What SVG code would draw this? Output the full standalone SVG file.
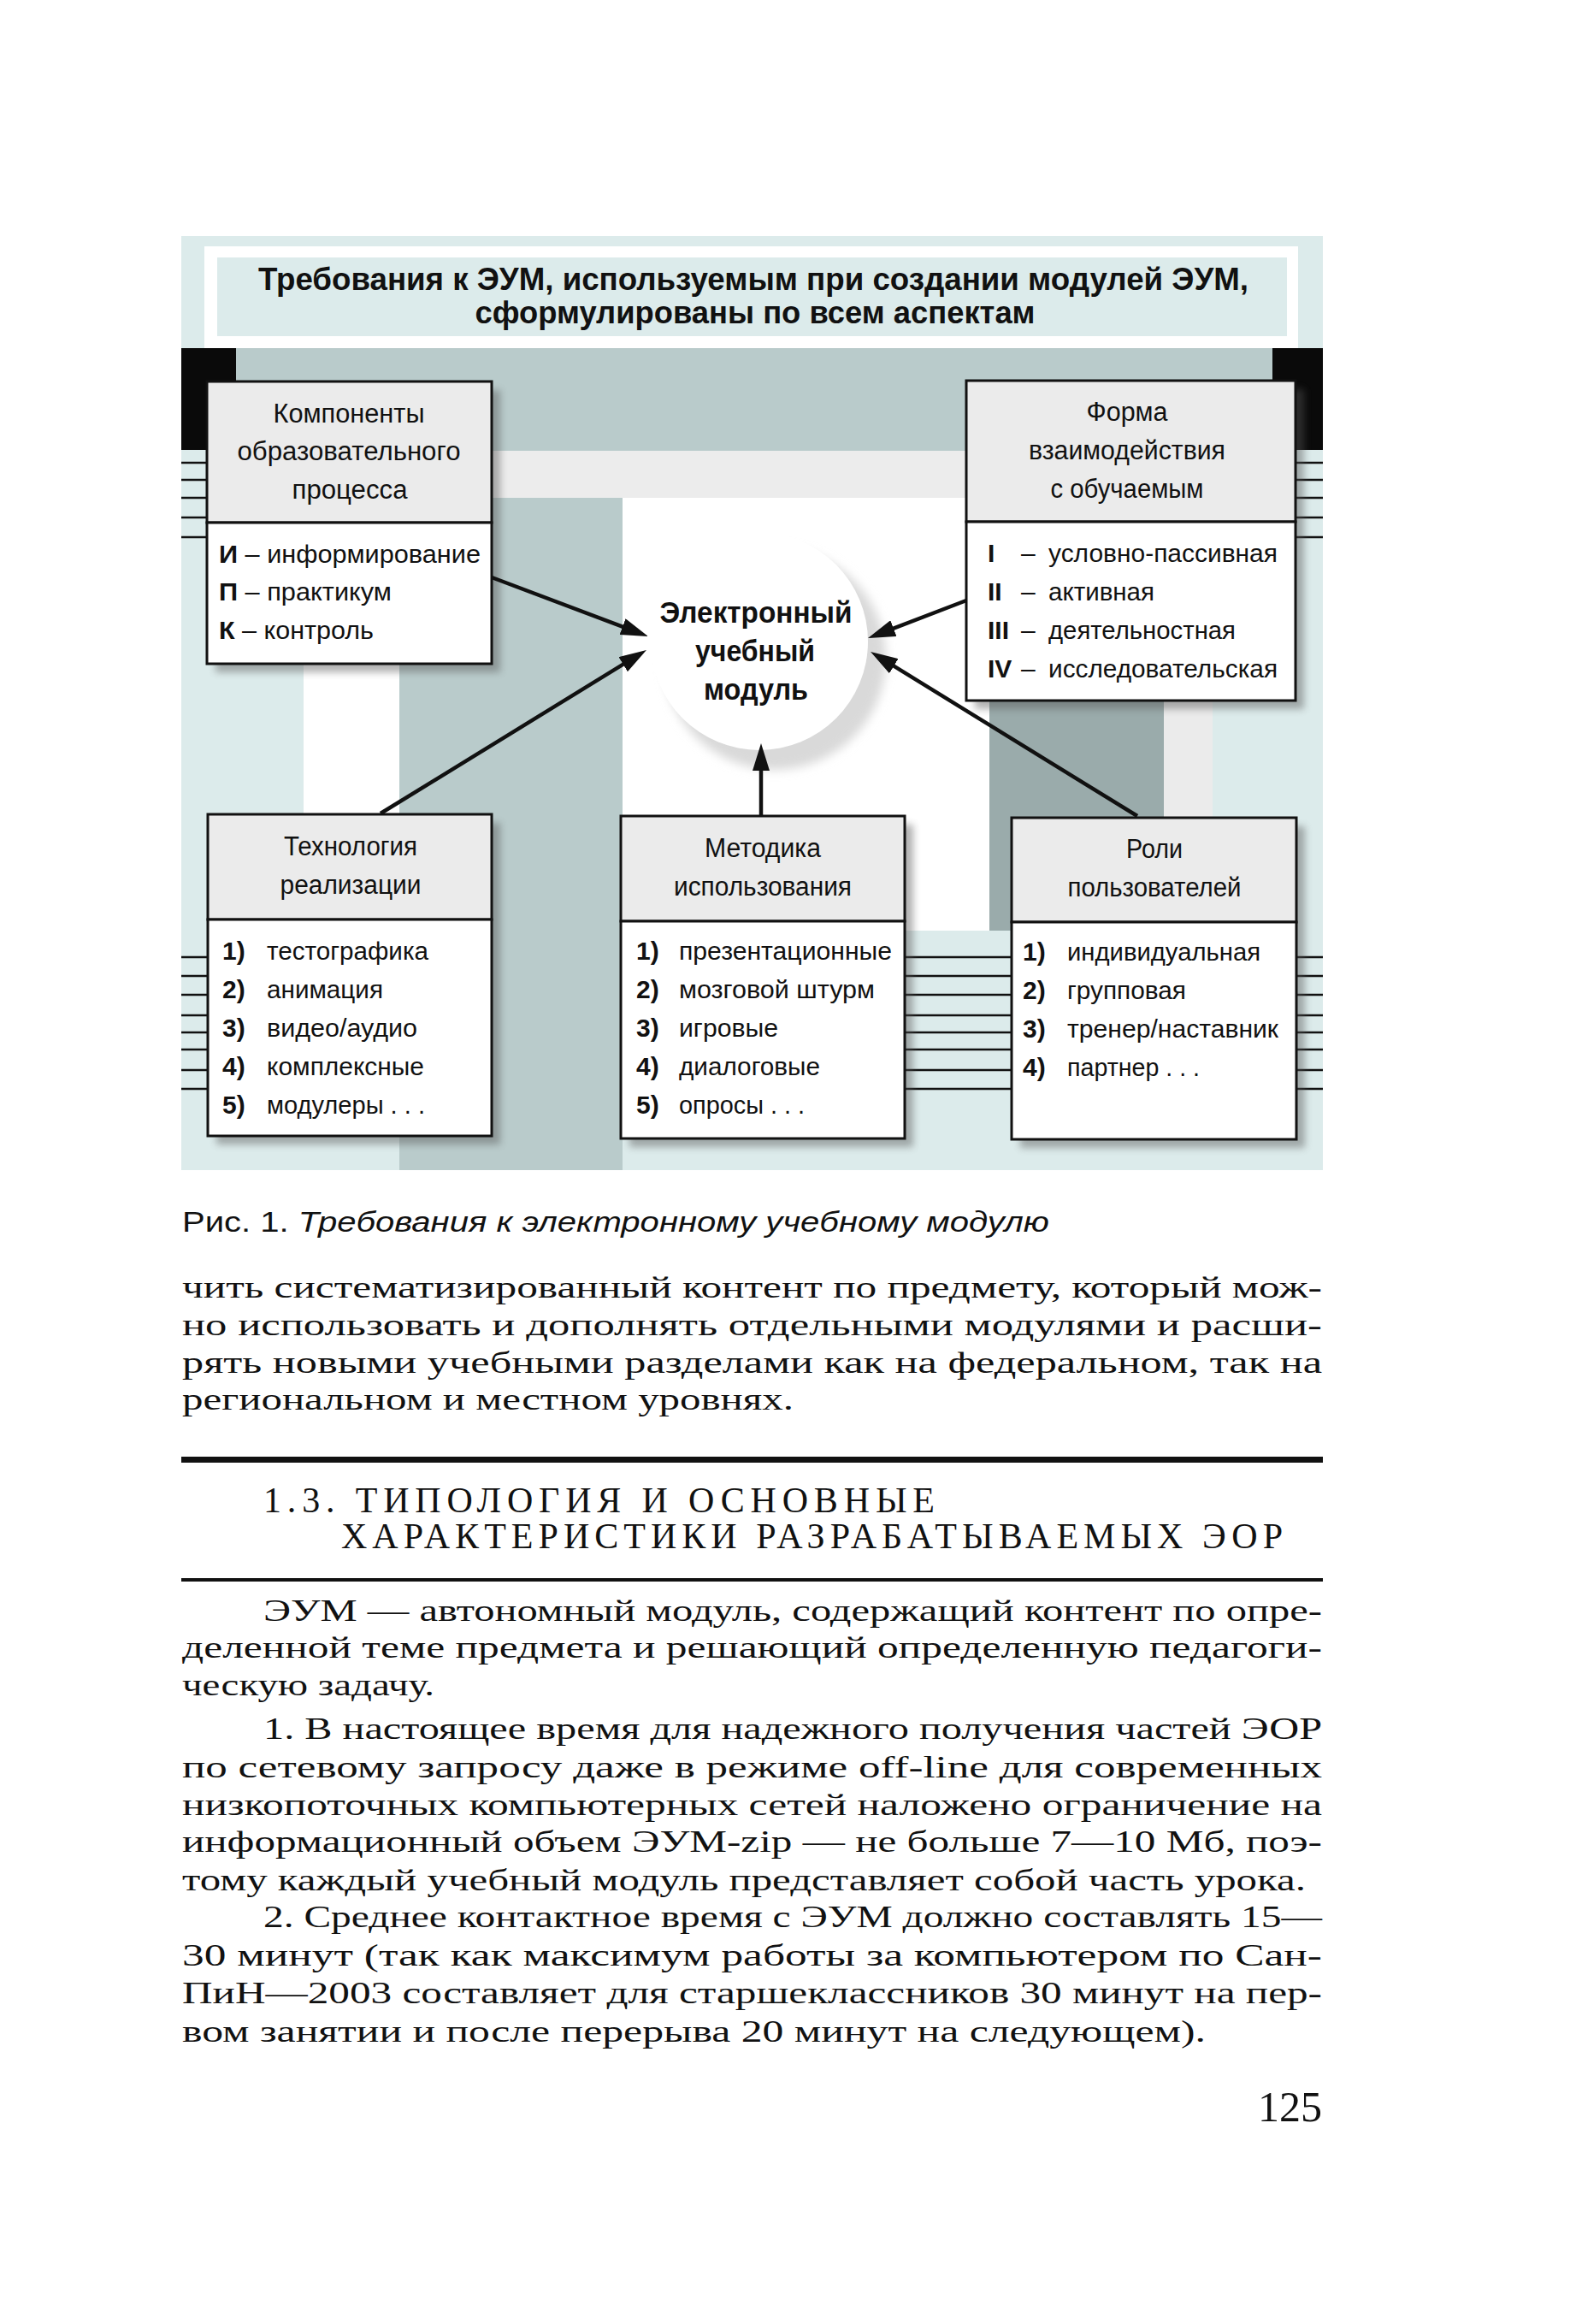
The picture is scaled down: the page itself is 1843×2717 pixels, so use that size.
<svg xmlns="http://www.w3.org/2000/svg" width="1843" height="2717" viewBox="0 0 1843 2717">
<style>
.sans{font-family:"Liberation Sans",Arial,sans-serif;fill:#111}
.hdr{font-family:"Liberation Sans",Arial,sans-serif;font-size:31px;text-anchor:middle;fill:#111}
.itm{font-family:"Liberation Sans",Arial,sans-serif;font-size:30px;fill:#111}
.b{font-weight:bold}
.serif{font-family:"Liberation Serif","Times New Roman",serif;font-size:36px;fill:#111}
.h13{font-size:42px}
.pg{font-size:50px}
.box{stroke:#111;stroke-width:3}
.head{fill:#ebebeb}
.body{fill:#ffffff}
.tick{stroke:#111;stroke-width:2.5}
.conn{stroke:#111;stroke-width:4.5;fill:none}
.shadow{fill:#555;opacity:0.45}
</style>
<defs>
<filter id="blur" x="-10%" y="-10%" width="130%" height="130%"><feGaussianBlur stdDeviation="4"/></filter>
<filter id="blur2" x="-20%" y="-20%" width="140%" height="140%"><feGaussianBlur stdDeviation="6"/></filter>
<marker id="arrow" markerUnits="userSpaceOnUse" markerWidth="34" markerHeight="20" refX="2" refY="10" orient="auto">
<path d="M0,0 L32,10 L0,20 z" fill="#111"/>
</marker>
</defs>
<rect x="0" y="0" width="1843" height="2717" fill="#ffffff"/>

<g id="background">
<rect x="212" y="276" width="1335" height="1092" fill="#dcebeb"/>
<rect x="239" y="288" width="1279" height="119" fill="#ffffff"/>
<rect x="276" y="407" width="1212" height="120" fill="#b9cbcb"/>
<rect x="212" y="407" width="64" height="119" fill="#0a0a0a"/>
<rect x="1488" y="407" width="59" height="119" fill="#0a0a0a"/>
<rect x="575" y="527" width="555" height="55" fill="#ececec"/>
<rect x="467" y="582" width="261" height="786" fill="#b9cbcb"/>
<rect x="355" y="776" width="112" height="177" fill="#ffffff"/>
<rect x="728" y="582" width="429" height="506" fill="#ffffff"/>
<rect x="1157" y="819" width="204" height="269" fill="#9aabab"/>
<rect x="1361" y="819" width="57" height="137" fill="#ebebeb"/>
</g>

<g id="title">
<rect x="254" y="301" width="1251" height="92" fill="#dcebeb"/>
<text class="sans b" x="881" y="339" font-size="36" text-anchor="middle" textLength="1158" lengthAdjust="spacingAndGlyphs">Требования к ЭУМ, используемым при создании модулей ЭУМ,</text>
<text class="sans b" x="883" y="378" font-size="36" text-anchor="middle" textLength="655" lengthAdjust="spacingAndGlyphs">сформулированы по всем аспектам</text>
</g>

<g id="ticks">
<path class="tick" d="M212,541H242M212,561H242M212,582H242M212,605H242M212,628H242"/>
<path class="tick" d="M1515,541H1547M1515,561H1547M1515,582H1547M1515,605H1547M1515,628H1547"/>
<path class="tick" d="M212,1119H243M212,1141H243M212,1163H243M212,1187H243M212,1207H243M212,1227H243M212,1251H243M212,1273H243"/>
<path class="tick" d="M1058,1119H1183M1058,1141H1183M1058,1163H1183M1058,1187H1183M1058,1207H1183M1058,1227H1183M1058,1251H1183M1058,1273H1183"/>
<path class="tick" d="M1516,1119H1547M1516,1141H1547M1516,1163H1547M1516,1187H1547M1516,1207H1547M1516,1227H1547M1516,1251H1547M1516,1273H1547"/>
</g>

<g id="node-components">
<rect class="shadow" x="252" y="456" width="333" height="330" filter="url(#blur)"/>
<rect class="box head" x="242" y="446" width="333" height="165"/>
<rect class="box body" x="242" y="611" width="333" height="165"/>
<text class="hdr" x="408" y="494" textLength="177" lengthAdjust="spacingAndGlyphs">Компоненты</text>
<text class="hdr" x="408" y="538" textLength="261" lengthAdjust="spacingAndGlyphs">образовательного</text>
<text class="hdr" x="409" y="583" textLength="135" lengthAdjust="spacingAndGlyphs">процесса</text>
<text class="itm" x="256" y="658" textLength="306" lengthAdjust="spacingAndGlyphs"><tspan class="b">И</tspan> – информирование</text>
<text class="itm" x="256" y="702" textLength="202" lengthAdjust="spacingAndGlyphs"><tspan class="b">П</tspan> – практикум</text>
<text class="itm" x="256" y="747" textLength="181" lengthAdjust="spacingAndGlyphs"><tspan class="b">К</tspan> – контроль</text>
</g>

<g id="node-form">
<rect class="shadow" x="1140" y="455" width="385" height="374" filter="url(#blur)"/>
<rect class="box head" x="1130" y="445" width="385" height="165"/>
<rect class="box body" x="1130" y="610" width="385" height="209"/>
<text class="hdr" x="1318" y="492" textLength="95" lengthAdjust="spacingAndGlyphs">Форма</text>
<text class="hdr" x="1318" y="537" textLength="230" lengthAdjust="spacingAndGlyphs">взаимодействия</text>
<text class="hdr" x="1318" y="582" textLength="179" lengthAdjust="spacingAndGlyphs">с обучаемым</text>
<text class="itm b" x="1155" y="657">I</text>
<text class="itm b" x="1155" y="702">II</text>
<text class="itm b" x="1155" y="747">III</text>
<text class="itm b" x="1155" y="792">IV</text>
<text class="itm" x="1194" y="657">–</text>
<text class="itm" x="1194" y="702">–</text>
<text class="itm" x="1194" y="747">–</text>
<text class="itm" x="1194" y="792">–</text>
<text class="itm" x="1226" y="657" textLength="268" lengthAdjust="spacingAndGlyphs">условно-пассивная</text>
<text class="itm" x="1226" y="702" textLength="124" lengthAdjust="spacingAndGlyphs">активная</text>
<text class="itm" x="1226" y="747" textLength="219" lengthAdjust="spacingAndGlyphs">деятельностная</text>
<text class="itm" x="1226" y="792" textLength="268" lengthAdjust="spacingAndGlyphs">исследовательская</text>
</g>

<g id="node-technology">
<rect class="shadow" x="253" y="962" width="332" height="376" filter="url(#blur)"/>
<rect class="box head" x="243" y="952" width="332" height="123"/>
<rect class="box body" x="243" y="1075" width="332" height="253"/>
<text class="hdr" x="410" y="1000" textLength="156" lengthAdjust="spacingAndGlyphs">Технология</text>
<text class="hdr" x="410" y="1045" textLength="165" lengthAdjust="spacingAndGlyphs">реализации</text>
<text class="itm b" x="260" y="1122">1)</text>
<text class="itm b" x="260" y="1167">2)</text>
<text class="itm b" x="260" y="1212">3)</text>
<text class="itm b" x="260" y="1257">4)</text>
<text class="itm b" x="260" y="1302">5)</text>
<text class="itm" x="312" y="1122" textLength="189" lengthAdjust="spacingAndGlyphs">тестографика</text>
<text class="itm" x="312" y="1167" textLength="136" lengthAdjust="spacingAndGlyphs">анимация</text>
<text class="itm" x="312" y="1212" textLength="176" lengthAdjust="spacingAndGlyphs">видео/аудио</text>
<text class="itm" x="312" y="1257" textLength="184" lengthAdjust="spacingAndGlyphs">комплексные</text>
<text class="itm" x="312" y="1302" textLength="185" lengthAdjust="spacingAndGlyphs">модулеры . . .</text>
</g>

<g id="node-method">
<rect class="shadow" x="736" y="964" width="332" height="377" filter="url(#blur)"/>
<rect class="box head" x="726" y="954" width="332" height="123"/>
<rect class="box body" x="726" y="1077" width="332" height="254"/>
<text class="hdr" x="892" y="1002" textLength="136" lengthAdjust="spacingAndGlyphs">Методика</text>
<text class="hdr" x="892" y="1047" textLength="208" lengthAdjust="spacingAndGlyphs">использования</text>
<text class="itm b" x="744" y="1122">1)</text>
<text class="itm b" x="744" y="1167">2)</text>
<text class="itm b" x="744" y="1212">3)</text>
<text class="itm b" x="744" y="1257">4)</text>
<text class="itm b" x="744" y="1302">5)</text>
<text class="itm" x="794" y="1122" textLength="249" lengthAdjust="spacingAndGlyphs">презентационные</text>
<text class="itm" x="794" y="1167" textLength="229" lengthAdjust="spacingAndGlyphs">мозговой штурм</text>
<text class="itm" x="794" y="1212" textLength="116" lengthAdjust="spacingAndGlyphs">игровые</text>
<text class="itm" x="794" y="1257" textLength="165" lengthAdjust="spacingAndGlyphs">диалоговые</text>
<text class="itm" x="794" y="1302" textLength="147" lengthAdjust="spacingAndGlyphs">опросы . . .</text>
</g>

<g id="node-roles">
<rect class="shadow" x="1193" y="966" width="333" height="376" filter="url(#blur)"/>
<rect class="box head" x="1183" y="956" width="333" height="122"/>
<rect class="box body" x="1183" y="1078" width="333" height="254"/>
<text class="hdr" x="1350" y="1003" textLength="66" lengthAdjust="spacingAndGlyphs">Роли</text>
<text class="hdr" x="1350" y="1048" textLength="203" lengthAdjust="spacingAndGlyphs">пользователей</text>
<text class="itm b" x="1196" y="1123">1)</text>
<text class="itm b" x="1196" y="1168">2)</text>
<text class="itm b" x="1196" y="1213">3)</text>
<text class="itm b" x="1196" y="1258">4)</text>
<text class="itm" x="1248" y="1123" textLength="226" lengthAdjust="spacingAndGlyphs">индивидуальная</text>
<text class="itm" x="1248" y="1168" textLength="139" lengthAdjust="spacingAndGlyphs">групповая</text>
<text class="itm" x="1248" y="1213" textLength="247" lengthAdjust="spacingAndGlyphs">тренер/наставник</text>
<text class="itm" x="1248" y="1258" textLength="155" lengthAdjust="spacingAndGlyphs">партнер . . .</text>
</g>

<g id="node-module">
<circle cx="906" cy="770" r="130" fill="#d9d9d9" filter="url(#blur2)"/>
<circle cx="888" cy="750" r="127" fill="#ffffff"/>
<text class="sans b" x="884" y="728" font-size="35" text-anchor="middle" textLength="225" lengthAdjust="spacingAndGlyphs">Электронный</text>
<text class="sans b" x="883" y="773" font-size="35" text-anchor="middle" textLength="140" lengthAdjust="spacingAndGlyphs">учебный</text>
<text class="sans b" x="884" y="818" font-size="35" text-anchor="middle" textLength="122" lengthAdjust="spacingAndGlyphs">модуль</text>
</g>

<g id="connectors">
<line class="conn" x1="575" y1="675" x2="729.9" y2="733.4" marker-end="url(#arrow)"/>
<line class="conn" x1="445" y1="951" x2="730.4" y2="775.7" marker-end="url(#arrow)"/>
<line class="conn" x1="890" y1="954" x2="890" y2="899" marker-end="url(#arrow)"/>
<line class="conn" x1="1130" y1="702" x2="1043" y2="735.3" marker-end="url(#arrow)"/>
<line class="conn" x1="1330" y1="954" x2="1043.6" y2="777.7" marker-end="url(#arrow)"/>
</g>

<g id="caption">
<text class="sans" x="213" y="1440" font-size="34" textLength="1014" lengthAdjust="spacingAndGlyphs">Рис. 1. <tspan font-style="italic">Требования к электронному учебному модулю</tspan></text>
</g>

<g id="page-text">
<text class="serif" x="213" y="1517" textLength="1333" lengthAdjust="spacingAndGlyphs">чить систематизированный контент по предмету, который мож-</text>
<text class="serif" x="213" y="1561" textLength="1333" lengthAdjust="spacingAndGlyphs">но использовать и дополнять отдельными модулями и расши-</text>
<text class="serif" x="213" y="1605" textLength="1333" lengthAdjust="spacingAndGlyphs">рять новыми учебными разделами как на федеральном, так на</text>
<text class="serif" x="213" y="1648" textLength="715" lengthAdjust="spacingAndGlyphs">региональном и местном уровнях.</text>
<rect x="212" y="1703" width="1335" height="7" fill="#111"/>
<text class="serif h13" x="308" y="1768" textLength="785" lengthAdjust="spacing">1.3. ТИПОЛОГИЯ И ОСНОВНЫЕ</text>
<text class="serif h13" x="399" y="1810" textLength="1101" lengthAdjust="spacing">ХАРАКТЕРИСТИКИ РАЗРАБАТЫВАЕМЫХ ЭОР</text>
<rect x="212" y="1845" width="1335" height="4" fill="#111"/>
<text class="serif" x="308" y="1895" textLength="1238" lengthAdjust="spacingAndGlyphs">ЭУМ — автономный модуль, содержащий контент по опре-</text>
<text class="serif" x="213" y="1938" textLength="1333" lengthAdjust="spacingAndGlyphs">деленной теме предмета и решающий определенную педагоги-</text>
<text class="serif" x="213" y="1982" textLength="295" lengthAdjust="spacingAndGlyphs">ческую задачу.</text>
<text class="serif" x="308" y="2033" textLength="1238" lengthAdjust="spacingAndGlyphs">1. В настоящее время для надежного получения частей ЭОР</text>
<text class="serif" x="213" y="2078" textLength="1333" lengthAdjust="spacingAndGlyphs">по сетевому запросу даже в режиме off-line для современных</text>
<text class="serif" x="213" y="2122" textLength="1333" lengthAdjust="spacingAndGlyphs">низкопоточных компьютерных сетей наложено ограничение на</text>
<text class="serif" x="213" y="2165" textLength="1333" lengthAdjust="spacingAndGlyphs">информационный объем ЭУМ-zip — не больше 7—10 Мб, поэ-</text>
<text class="serif" x="213" y="2210" textLength="1314" lengthAdjust="spacingAndGlyphs">тому каждый учебный модуль представляет собой часть урока.</text>
<text class="serif" x="308" y="2253" textLength="1238" lengthAdjust="spacingAndGlyphs">2. Среднее контактное время с ЭУМ должно составлять 15—</text>
<text class="serif" x="213" y="2298" textLength="1333" lengthAdjust="spacingAndGlyphs">30 минут (так как максимум работы за компьютером по Сан-</text>
<text class="serif" x="213" y="2342" textLength="1333" lengthAdjust="spacingAndGlyphs">ПиН—2003 составляет для старшеклассников 30 минут на пер-</text>
<text class="serif" x="213" y="2387" textLength="1197" lengthAdjust="spacingAndGlyphs">вом занятии и после перерыва 20 минут на следующем).</text>
<text class="serif pg" x="1546" y="2480" text-anchor="end">125</text>
</g>
</svg>
